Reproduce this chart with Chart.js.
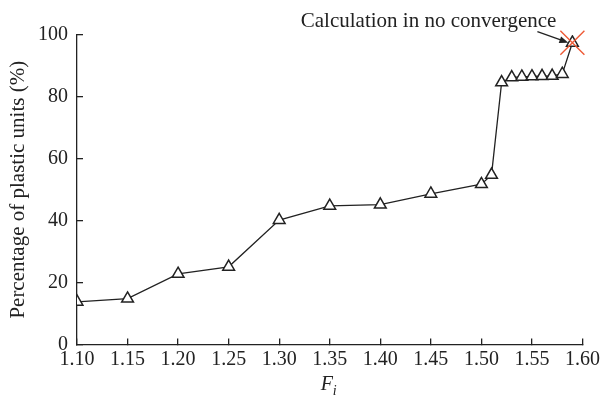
<!DOCTYPE html>
<html>
<head>
<meta charset="utf-8">
<script src="https://cdn.jsdelivr.net/npm/chart.js@4.4.1/dist/chart.umd.min.js"></script>
<style>
  html, body { margin: 0; padding: 0; background: #fff; }
  #wrap { width: 609px; height: 405px; }
</style>
</head>
<body>
<div id="wrap"><canvas id="c" width="609" height="405"></canvas></div>
<script>
// Load factor F_i and the share of plastic units (%) at each step
const fi = [1.10, 1.15, 1.20, 1.25, 1.30, 1.35, 1.40, 1.45, 1.50, 1.51, 1.52, 1.53, 1.54, 1.55, 1.56, 1.57, 1.58, 1.59];
const plasticPct = [13.8, 14.8, 22.8, 25.1, 40.2, 44.8, 45.2, 48.7, 51.8, 54.8, 84.7, 86.3, 86.5, 86.6, 86.7, 86.8, 87.4, 97.5];

// Step where the calculation stops converging
const failedFi = [1.59];
const failedPct = [97.5];

const xTicks = [1.10, 1.15, 1.20, 1.25, 1.30, 1.35, 1.40, 1.45, 1.50, 1.55, 1.60];
const yTicks = [0, 20, 40, 60, 80, 100];

const noteText = 'Calculation in no convergence';
const yTitle = 'Percentage of plastic units (%)';

const SERIF = '"Liberation Serif", "Times New Roman", serif';
const INK = '#222';

const mainPoints = fi.map((x, i) => ({ x, y: plasticPct[i] }));
const failPoints = failedFi.map((x, i) => ({ x, y: failedPct[i] }));

// Arrow + note pointing at the non-converged step, and the italic F_i axis title
const notePlugin = {
  id: 'notePlugin',
  afterDatasetsDraw(chart) {
    const { ctx, scales } = chart;
    const px = scales.x.getPixelForValue(failedFi[0]);
    const py = scales.y.getPixelForValue(failedPct[0]);
    ctx.save();
    // arrow
    const tipX = px - 4, tipY = py;
    const tailX = tipX - 31, tailY = tipY - 11;
    const ang = Math.atan2(tipY - tailY, tipX - tailX);
    ctx.strokeStyle = INK;
    ctx.fillStyle = INK;
    ctx.lineWidth = 1.3;
    ctx.beginPath();
    ctx.moveTo(tailX, tailY);
    ctx.lineTo(tipX - 6 * Math.cos(ang), tipY - 6 * Math.sin(ang));
    ctx.stroke();
    const hl = 9, hw = 3.5;
    ctx.beginPath();
    ctx.moveTo(tipX, tipY);
    ctx.lineTo(tipX - hl * Math.cos(ang) + hw * Math.sin(ang), tipY - hl * Math.sin(ang) - hw * Math.cos(ang));
    ctx.lineTo(tipX - hl * Math.cos(ang) - hw * Math.sin(ang), tipY - hl * Math.sin(ang) + hw * Math.cos(ang));
    ctx.closePath();
    ctx.fill();
    // note text
    ctx.font = '21px ' + SERIF;
    ctx.textAlign = 'right';
    ctx.textBaseline = 'alphabetic';
    ctx.fillText(noteText, tailX + 19, tailY - 5);
    ctx.restore();
  },
  afterDraw(chart) {
    const { ctx, chartArea } = chart;
    const cx = (chartArea.left + chartArea.right) / 2;
    ctx.save();
    ctx.fillStyle = INK;
    ctx.textBaseline = 'alphabetic';
    ctx.textAlign = 'left';
    ctx.font = 'italic 20px ' + SERIF;
    const fw = ctx.measureText('F').width;
    ctx.fillText('F', cx - fw / 2 - 3, 390);
    ctx.font = 'italic 14px ' + SERIF;
    ctx.fillText('i', cx + fw / 2 - 3, 395);
    ctx.restore();
  }
};

new Chart(document.getElementById('c'), {
  type: 'line',
  data: {
    datasets: [
      {
        label: 'No convergence',
        data: failPoints,
        order: 0,
        showLine: false,
        pointStyle: 'crossRot',
        pointRadius: 17,
        pointBorderColor: '#ee5a36',
        pointBorderWidth: 1.4,
        clip: false
      },
      {
        label: 'Plastic units',
        data: mainPoints,
        order: 1,
        borderColor: INK,
        borderWidth: 1.3,
        tension: 0,
        pointStyle: 'triangle',
        pointRadius: 6.8,
        pointBorderColor: INK,
        pointBackgroundColor: '#fff',
        pointBorderWidth: 1.5
      }
    ]
  },
  options: {
    responsive: false,
    animation: false,
    devicePixelRatio: 1,
    layout: { padding: { top: 35, right: 18, bottom: 0, left: 0 } },
    plugins: { legend: { display: false }, tooltip: { enabled: false } },
    scales: {
      x: {
        type: 'linear',
        min: 1.10,
        max: 1.60,
        afterFit(s) { s.height = 60.5; },
        afterBuildTicks(s) { s.ticks = xTicks.map(v => ({ value: v })); },
        border: { display: true, color: INK, width: 1.3 },
        grid: { drawOnChartArea: false, drawTicks: true, tickLength: -6, color: INK, lineWidth: 1.3 },
        ticks: {
          color: INK,
          font: { family: SERIF, size: 20 },
          padding: 9,
          maxRotation: 0,
          callback: v => v.toFixed(2)
        }
      },
      y: {
        min: 0,
        max: 100,
        afterFit(s) { s.width = 77; },
        afterBuildTicks(s) { s.ticks = yTicks.map(v => ({ value: v })); },
        border: { display: true, color: INK, width: 1.3 },
        grid: { drawOnChartArea: false, drawTicks: true, tickLength: -6, color: INK, lineWidth: 1.3 },
        ticks: {
          color: INK,
          font: { family: SERIF, size: 20 },
          padding: 15,
          callback: v => String(v)
        },
        title: {
          display: true,
          text: yTitle,
          color: INK,
          font: { family: SERIF, size: 21 },
          padding: { top: 6, bottom: 0 }
        }
      }
    }
  },
  plugins: [notePlugin]
});
</script>
</body>
</html>
